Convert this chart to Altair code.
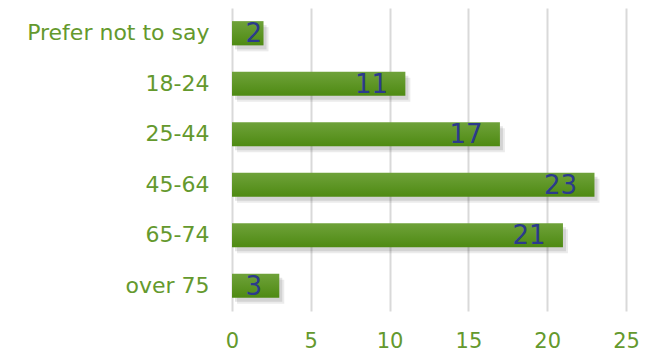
import altair as alt
import pandas as pd

categories = ["Prefer not to say", "18-24", "25-44", "45-64", "65-74", "over 75"]
values = [2, 11, 17, 23, 21, 3]

df = pd.DataFrame({"cat": categories, "v": values})

FONT = "DejaVu Sans"
GREEN_TXT = "#64992d"
LABEL_BLUE = "#2b3a8c"

y_enc = alt.Y("cat:N", sort=categories, title=None,
              scale=alt.Scale(paddingInner=0.52, paddingOuter=0.26),
              axis=alt.Axis(domain=False, ticks=False, labelPadding=23, labelLimit=400,
                            labelFontSize=22, labelColor=GREEN_TXT, labelFont=FONT,
                            grid=False))
x_enc = alt.X("v:Q", title=None,
              scale=alt.Scale(domain=[0, 25], nice=False),
              axis=alt.Axis(values=[0, 5, 10, 15, 20, 25], domain=False, ticks=False,
                            labelFlush=False,
                            labelPadding=19, labelFontSize=21, labelColor=GREEN_TXT,
                            labelFont=FONT, grid=True, gridColor="#d9d9d9", gridWidth=2))

base = alt.Chart(df)

shadow1 = base.mark_bar(color="#000000", opacity=0.10, xOffset=3, yOffset=4).encode(
    x=alt.X("v:Q", scale=alt.Scale(domain=[0, 25], nice=False)), y=alt.Y("cat:N", sort=categories))
shadow2 = base.mark_bar(color="#000000", opacity=0.08, xOffset=5, yOffset=6).encode(
    x=alt.X("v:Q", scale=alt.Scale(domain=[0, 25], nice=False)), y=alt.Y("cat:N", sort=categories))

bars = base.mark_bar(
    color=alt.Gradient(gradient="linear", x1=0, x2=0, y1=0, y2=1,
                       stops=[alt.GradientStop(color="#6fa23a", offset=0),
                              alt.GradientStop(color="#4e8a12", offset=1)])
).encode(x=x_enc, y=y_enc)

labels = base.transform_calculate(
    pos="max(datum.v - 1.1, 1.9)"
).mark_text(align="right", baseline="middle", fontSize=26, color=LABEL_BLUE,
            font=FONT, dy=1).encode(
    x=alt.X("pos:Q", scale=alt.Scale(domain=[0, 25], nice=False)),
    y=alt.Y("cat:N", sort=categories),
    text="v:Q")

chart = alt.layer(shadow2, shadow1, bars, labels).properties(
    width=394, height=303, autosize="none",
    padding={"left": 224, "top": 0, "right": 21, "bottom": 41}
).configure_view(stroke=None)

chart.save("out.html", embed_options={"renderer": "svg", "actions": False})
